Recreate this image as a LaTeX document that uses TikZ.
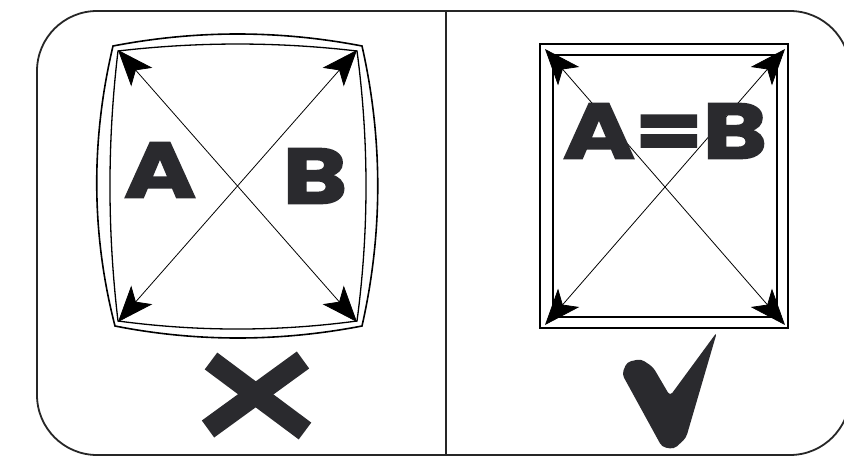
\documentclass[tikz,border=0pt]{standalone}
\usepackage{fontspec}
\newfontfamily\letterfont{Poppins}[FakeBold=2.5,FakeStretch=1.25]
\usetikzlibrary{arrows.meta}
\definecolor{ink}{HTML}{2A2A2E}
\tikzset{
  frame/.style={line width=1.8pt, draw=black!85},
  edge/.style={line width=1.6pt, draw=black},
  bighead/.tip={Stealth[length=36pt,width=28pt,inset=9pt]},
  diag/.style={line width=0.8pt, draw=black, bighead-bighead},
  letters/.style={inner sep=0pt, text=ink, font=\letterfont\bfseries\fontsize{78}{78}\selectfont},
  tickfill/.style={fill=ink, draw=none},
}
\begin{document}
\begin{tikzpicture}[x=1pt,y=-1pt]
\useasboundingbox (0,0) rectangle (844,458);
\clip (0,0) rectangle (844,458);
\fill[white] (0,0) rectangle (844,458);
% outer frame
\draw[frame, rounded corners=60pt] (37,11) rectangle (850,455);
\coordinate (dtop) at (446,11);
\coordinate (dbot) at (446,455);
\draw[frame] (dtop) -- (dbot);

% ---- left panel: barrel shape
\draw[edge] (113,46) .. controls (196,30) and (279,30) .. (362,46)
  .. controls (383,139) and (383,233) .. (362,326)
  .. controls (279,342) and (196,342) .. (115,326)
  .. controls (91,233) and (91,139) .. cycle;
\draw[edge, line width=1.3pt] (118,51) .. controls (198,41.7) and (277,41.7) .. (357,51)
  .. controls (369,141) and (369,231) .. (357,321)
  .. controls (277,331.7) and (198,331.7) .. (118,321)
  .. controls (107.3,231) and (107.3,141) .. cycle;
\coordinate (ltl) at (118,50);
\coordinate (ltr) at (357,50);
\coordinate (lbl) at (118,322);
\coordinate (lbr) at (357,322);
\draw[diag] (ltl) -- (lbr);
\draw[diag] (ltr) -- (lbl);
\node[letters] (la) at (160,170) {A};
\node[letters] (lb) at (315,176) {B};

% cross mark
\draw[ink, line width=21pt] (211,361) -- (305,431);
\draw[ink, line width=21pt] (303,360) -- (208,429);

% ---- right panel: square
\draw[edge] (540,44) rectangle (788,328);
\draw[edge, line width=1.3pt] (553,55) rectangle (777,317);
\coordinate (rtl) at (545,49);
\coordinate (rtr) at (785,49);
\coordinate (rbl) at (545,325);
\coordinate (rbr) at (785,325);
\draw[diag] (rtl) -- (rbr);
\draw[diag] (rtr) -- (rbl);
\node[letters] (ab) at (665,131) {A=B};

% check mark
\fill[tickfill, rounded corners=4pt] (622,374) -- (627,362) -- (641,359) -- (653,367)
  -- (670,396) -- (717,332) -- (686,438) -- (674,449) -- (662,447) -- cycle;
\end{tikzpicture}
\end{document}
